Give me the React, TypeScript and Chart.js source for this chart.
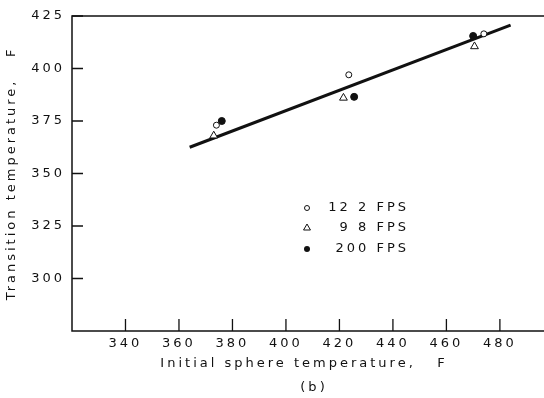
import React, { useEffect, useRef } from "react";
import { Chart, registerables } from "chart.js";

Chart.register(...registerables);

// ---- data ----
const fitLineX = [364, 484];
const fitLineY = [362.5, 420.7];

const fps122X = [374, 423.5, 474];
const fps122Y = [373, 397, 416.5];

const fps98X = [373, 421.5, 470.5];
const fps98Y = [368, 386, 410.5];

const fps200X = [376, 425.5, 470];
const fps200Y = [375, 386.5, 415.5];

const xTickValues = [340, 360, 380, 400, 420, 440, 460, 480];
const yTickValues = [300, 325, 350, 375, 400, 425];

const legendLabels = ["12 2 FPS", "9 8 FPS", "200 FPS"];
const legendStyles = ["openCircle", "openTriangle", "filledCircle"];

const xTitle = "Initial sphere temperature,   F";
const yTitle = "Transition temperature,   F";
const caption = "(b)";

// ---- styles ----
const INK = "#111";
const FONT = "'DejaVu Sans', sans-serif";
const SPACING = "3px";

const toPoints = (xs: number[], ys: number[]) => xs.map((x, i) => ({ x, y: ys[i] }));

function drawMarker(ctx: CanvasRenderingContext2D, style: string, x: number, y: number, r: number) {
  ctx.beginPath();
  if (style === "openTriangle") {
    ctx.moveTo(x, y - r);
    ctx.lineTo(x + r * 0.866, y + r * 0.5);
    ctx.lineTo(x - r * 0.866, y + r * 0.5);
    ctx.closePath();
  } else {
    ctx.arc(x, y, r, 0, Math.PI * 2);
  }
  if (style === "filledCircle") {
    ctx.fillStyle = INK;
    ctx.fill();
  } else {
    ctx.fillStyle = "#fff";
    ctx.fill();
    ctx.lineWidth = 1;
    ctx.strokeStyle = INK;
    ctx.stroke();
  }
}

const decorPlugin = {
  id: "decor",
  beforeDraw(chart: any) {
    (chart.ctx as any).letterSpacing = SPACING;
  },
  afterDraw(chart: any) {
    const { ctx, chartArea } = chart;
    const xs = chart.scales.x;
    const ys = chart.scales.y;
    ctx.save();
    ctx.strokeStyle = INK;
    ctx.lineWidth = 1.5;
    // frame: left axis, bottom axis, top line (open to the right edge)
    ctx.beginPath();
    ctx.moveTo(chart.width, chartArea.top);
    ctx.lineTo(chartArea.left, chartArea.top);
    ctx.lineTo(chartArea.left, chartArea.bottom);
    ctx.lineTo(chart.width, chartArea.bottom);
    ctx.stroke();
    // inward tick marks
    ctx.lineWidth = 1.3;
    ctx.beginPath();
    xTickValues.forEach((v) => {
      const px = xs.getPixelForValue(v);
      ctx.moveTo(px, chartArea.bottom);
      ctx.lineTo(px, chartArea.bottom - 12);
    });
    yTickValues.forEach((v) => {
      const py = ys.getPixelForValue(v);
      ctx.moveTo(chartArea.left, py);
      ctx.lineTo(chartArea.left + 11, py);
    });
    ctx.stroke();

    // legend
    (ctx as any).letterSpacing = SPACING;
    ctx.font = `13px ${FONT}`;
    ctx.textBaseline = "middle";
    const rowsY = [208, 228, 249];
    legendLabels.forEach((label, i) => {
      const st = legendStyles[i];
      drawMarker(ctx, st, 307, rowsY[i], st === "openTriangle" ? 4 : st === "filledCircle" ? 3 : 2.5);
      ctx.fillStyle = INK;
      ctx.textAlign = "right";
      ctx.fillText(label, 409, rowsY[i]);
    });
    ctx.textAlign = "center";
    ctx.fillStyle = INK;
    ctx.fillText(caption, 314, 388);
    ctx.restore();
  },
};

export default function App() {
  const canvasRef = useRef<HTMLCanvasElement | null>(null);

  useEffect(() => {
    document.body.style.margin = "0";
    const canvas = canvasRef.current;
    if (!canvas) return;
    const chart = new Chart(canvas, {
      type: "scatter",
      data: {
        datasets: [
          {
            label: legendLabels[0],
            data: toPoints(fps122X, fps122Y),
            pointStyle: "circle",
            pointRadius: 3,
            pointBorderWidth: 1,
            pointBackgroundColor: "#fff",
            pointBorderColor: INK,
            order: 0,
          },
          {
            label: legendLabels[1],
            data: toPoints(fps98X, fps98Y),
            pointStyle: "triangle",
            pointRadius: 4.5,
            pointBorderWidth: 1,
            pointBackgroundColor: "#fff",
            pointBorderColor: INK,
            order: 0,
          },
          {
            label: legendLabels[2],
            data: toPoints(fps200X, fps200Y),
            pointStyle: "circle",
            pointRadius: 3.5,
            pointBorderWidth: 1,
            pointBackgroundColor: INK,
            pointBorderColor: INK,
            order: 0,
          },
          {
            label: "fit",
            data: toPoints(fitLineX, fitLineY),
            showLine: true,
            borderColor: INK,
            borderWidth: 3,
            pointRadius: 0,
            order: 10,
          } as any,
        ],
      },
      options: {
        animation: false,
        responsive: true,
        maintainAspectRatio: false,
        layout: { padding: { left: 0, right: 8, top: 16, bottom: 22 } },
        plugins: {
          legend: { display: false },
          tooltip: { enabled: false },
        },
        scales: {
          x: {
            type: "linear",
            min: 320,
            max: 493.5,
            afterBuildTicks: (scale: any) => {
              scale.ticks = xTickValues.map((v) => ({ value: v }));
            },
            afterFit: (scale: any) => {
              scale.height = 45;
            },
            grid: { display: false, drawTicks: false },
            border: { display: false },
            ticks: {
              color: INK,
              font: { family: FONT, size: 13 },
              padding: 5,
              maxRotation: 0,
              autoSkip: false,
            },
            title: {
              display: true,
              text: xTitle,
              color: INK,
              font: { family: FONT, size: 13 },
              padding: { top: 0, bottom: 5 },
            },
          },
          y: {
            type: "linear",
            min: 275,
            max: 425,
            afterBuildTicks: (scale: any) => {
              scale.ticks = yTickValues.map((v) => ({ value: v }));
            },
            afterFit: (scale: any) => {
              scale.width = 72;
            },
            grid: { display: false, drawTicks: false },
            border: { display: false },
            ticks: {
              color: INK,
              font: { family: FONT, size: 13 },
              padding: 7,
              autoSkip: false,
            },
            title: {
              display: true,
              text: yTitle,
              color: INK,
              font: { family: FONT, size: 13 },
              padding: { top: 4, bottom: 0 },
            },
          },
        },
      },
      plugins: [decorPlugin],
    });
    return () => chart.destroy();
  }, []);

  return (
    <div style={{ position: "fixed", left: 0, top: 0, width: 544, height: 398, background: "#fff" }}>
      <canvas ref={canvasRef} />
    </div>
  );
}
